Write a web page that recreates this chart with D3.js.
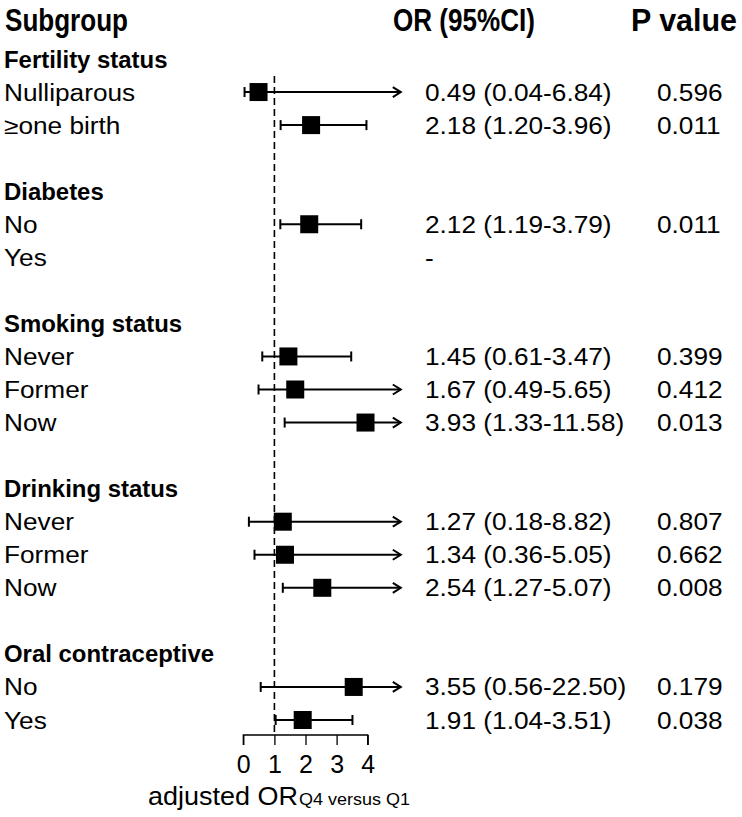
<!DOCTYPE html>
<html><head><meta charset="utf-8">
<script src="https://cdn.jsdelivr.net/npm/d3@7"></script>
<style>body{margin:0;background:#fff}svg{display:block}text{font-family:"Liberation Sans",Arial,sans-serif;fill:#000}</style>
</head><body>
<svg id="c" width="742" height="817"></svg>
<script>
// ---- data ----
const rowLabels = ["Fertility status","Nulliparous","≥one birth","","Diabetes","No","Yes","","Smoking status","Never","Former","Now","","Drinking status","Never","Former","Now","","Oral contraceptive","No","Yes"];
const rowIsGroup = [1,0,0,0,1,0,0,0,1,0,0,0,0,1,0,0,0,0,1,0,0];
const orValues = [null,0.49,2.18,null,null,2.12,null,null,null,1.45,1.67,3.93,null,null,1.27,1.34,2.54,null,null,3.55,1.91];
const ciLower  = [null,0.04,1.20,null,null,1.19,null,null,null,0.61,0.49,1.33,null,null,0.18,0.36,1.27,null,null,0.56,1.04];
const ciUpper  = [null,6.84,3.96,null,null,3.79,null,null,null,3.47,5.65,11.58,null,null,8.82,5.05,5.07,null,null,22.50,3.51];
const orText   = ["","0.49 (0.04-6.84)","2.18 (1.20-3.96)","","","2.12 (1.19-3.79)","-","","","1.45 (0.61-3.47)","1.67 (0.49-5.65)","3.93 (1.33-11.58)","","","1.27 (0.18-8.82)","1.34 (0.36-5.05)","2.54 (1.27-5.07)","","","3.55 (0.56-22.50)","1.91 (1.04-3.51)"];
const pText    = ["","0.596","0.011","","","0.011","","","","0.399","0.412","0.013","","","0.807","0.662","0.008","","","0.179","0.038"];
const xTicks = [0,1,2,3,4];
const headers = ["Subgroup","OR (95%CI)","P value"];
const axisTitle = "adjusted OR";
const axisSub = "Q4 versus Q1";
const refValue = 1;
const clipMax = 5;

// ---- layout ----
const svg = d3.select("#c");
const x = d3.scaleLinear().domain([0,4]).range([243.3,367.7]);
const y = d3.scaleLinear().domain([0,20]).range([59,720]);
const stretch = (sel, f) => sel.each(function(){ const L=this.getComputedTextLength(); d3.select(this).attr("textLength",L*f).attr("lengthAdjust","spacingAndGlyphs"); });
const fitTo = (sel, w) => sel.attr("textLength",w).attr("lengthAdjust","spacingAndGlyphs");

// headers
const hx = [5,393,631], hw=[123,142,106];
headers.forEach((h,i)=>{
  svg.append("text").attr("x",hx[i]).attr("y",31).attr("font-size",31).attr("font-weight","bold").text(h).call(fitTo,hw[i]);
});

const rows = d3.range(rowLabels.length);
// labels
svg.selectAll("text.lab").data(rows.filter(i=>rowLabels[i])).join("text").attr("class","lab")
  .attr("x",4).attr("y",i=>y(i)+8.5)
  .attr("font-size",23).attr("font-weight",i=>rowIsGroup[i]?"bold":"normal")
  .text(i=>rowLabels[i])
  .each(function(i){ d3.select(this).call(stretch, rowIsGroup[i]?1.04:1.14); });

svg.selectAll("text.ort").data(rows.filter(i=>orText[i])).join("text").attr("class","ort")
  .attr("x",425).attr("y",i=>y(i)+8.5).attr("font-size",23).text(i=>orText[i]).call(stretch,1.14);
svg.selectAll("text.pt").data(rows.filter(i=>pText[i])).join("text").attr("class","pt")
  .attr("x",657).attr("y",i=>y(i)+8.5).attr("font-size",23).text(i=>pText[i]).call(stretch,1.14);

// reference line
svg.append("line").attr("x1",x(refValue)).attr("x2",x(refValue)).attr("y1",76).attr("y2",735)
  .attr("stroke","#000").attr("stroke-width",1.6).attr("stroke-dasharray","7,4");

// CIs
const est = rows.filter(i=>orValues[i]!=null);
const g = svg.append("g").attr("stroke","#000").attr("stroke-width",2);
est.forEach(i=>{
  const yy=y(i), lo=x(ciLower[i]);
  const clipped = ciUpper[i]>clipMax;
  const hi = clipped ? x(clipMax)+2 : x(ciUpper[i]);
  g.append("line").attr("x1",lo).attr("x2",hi-(clipped?1:0)).attr("y1",yy).attr("y2",yy);
  g.append("line").attr("x1",lo).attr("x2",lo).attr("y1",yy-5).attr("y2",yy+5);
  if(clipped){
    g.append("path").attr("d",`M${hi-8},${yy-5}L${hi},${yy}L${hi-8},${yy+5}`).attr("fill","none");
  } else {
    g.append("line").attr("x1",hi).attr("x2",hi).attr("y1",yy-5).attr("y2",yy+5);
  }
  svg.append("rect").attr("x",x(orValues[i])-9).attr("y",yy-9).attr("width",18).attr("height",18).attr("fill","#000");
});

// axis
const ax = svg.append("g").attr("transform","translate(0,735)")
  .call(d3.axisBottom(x).tickValues(xTicks).tickSize(10).tickPadding(10).tickFormat(d3.format("d")));
ax.select(".domain").attr("stroke","#000").attr("stroke-width",1.3).attr("d",`M${x(0)},10V0H${x(4)}V10`);
ax.selectAll(".tick line").attr("stroke","#000").attr("stroke-width",1.3);
ax.selectAll(".tick text").attr("font-size",25).attr("font-family","Liberation Sans, Arial, sans-serif").attr("fill","#000");

svg.append("text").attr("x",148).attr("y",805).attr("font-size",25).text(axisTitle).call(fitTo,150);
svg.append("text").attr("x",299).attr("y",805).attr("font-size",17).text(axisSub).call(fitTo,111);
</script>
</body></html>
